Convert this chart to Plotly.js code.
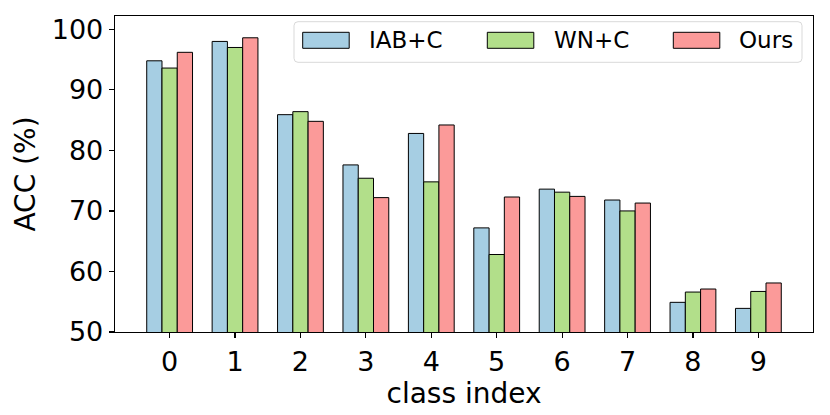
<!DOCTYPE html>
<html>
<head>
<meta charset="utf-8">
<script src="https://cdn.plot.ly/plotly-3.0.1.min.js"></script>
<style>html,body{margin:0;padding:0;background:#fff;}#chart{width:830px;height:415px;}</style>
</head>
<body>
<div id="chart"></div>
<script>
// ---- data ----
const classes = ["0","1","2","3","4","5","6","7","8","9"];
const seriesNames = ["IAB+C", "WN+C", "Ours"];
const iabC = [94.8, 98.0, 85.9, 77.6, 82.8, 67.2, 73.6, 71.8, 54.9, 53.9];
const wnC  = [93.6, 97.0, 86.4, 75.4, 74.8, 62.8, 73.1, 70.0, 56.6, 56.7];
const ours = [96.2, 98.6, 84.8, 72.2, 84.2, 72.3, 72.4, 71.3, 57.1, 58.1];
const colors = ["#a6cee3", "#b2df8a", "#fb9a99"];
const yTicks = [50, 60, 70, 80, 90, 100];

// ---- layout geometry ----
const M = {l: 115, r: 17, t: 16, b: 83};
const W = 830 - M.l - M.r, H = 415 - M.t - M.b;
const px = x => (x - M.l) / W;
const py = y => (415 - M.b - y) / H;
const FONT = "DejaVu Sans, Verdana, sans-serif";

const allSeries = [iabC, wnC, ours];
const traces = allSeries.map((vals, i) => ({
  type: "bar",
  x: classes.map((c, k) => k),
  y: vals,
  name: seriesNames[i],
  marker: {color: colors[i], line: {color: "#000", width: 1}},
  showlegend: false,
  hoverinfo: "x+y+name"
}));

// custom matplotlib-like legend (wide patches)
const shapes = [];
const annotations = [];
(function(){
  const x0 = px(294), x1 = px(802), y0 = py(62.3), y1 = py(21.7);
  const rx = 4 / W, ry = 4 / H;
  const path = `M ${x0+rx},${y0} L ${x1-rx},${y0} Q ${x1},${y0} ${x1},${y0+ry} L ${x1},${y1-ry} Q ${x1},${y1} ${x1-rx},${y1} L ${x0+rx},${y1} Q ${x0},${y1} ${x0},${y1-ry} L ${x0},${y0+ry} Q ${x0},${y0} ${x0+rx},${y0} Z`;
  shapes.push({type: "path", xref: "paper", yref: "paper", path: path,
    line: {color: "#d9d9d9", width: 1}, fillcolor: "rgba(255,255,255,0.8)", layer: "above"});
})();
const patchX = [302.7, 487.3, 673.3];
const patchW = 46.5;
const textX = [367, 551.7, 737.3];
seriesNames.forEach((n, i) => {
  shapes.push({type: "rect", xref: "paper", yref: "paper",
    x0: px(patchX[i]), x1: px(patchX[i] + patchW), y0: py(48.3), y1: py(32.3),
    fillcolor: colors[i], line: {color: "#000", width: 1}, layer: "above"});
  annotations.push({xref: "paper", yref: "paper", x: px(textX[i]), y: py(40.5),
    xanchor: "left", yanchor: "middle", showarrow: false, text: n,
    font: {family: FONT, size: 23, color: "#000"}});
});

const layout = {
  width: 830, height: 415,
  margin: M,
  paper_bgcolor: "#fff", plot_bgcolor: "#fff",
  barmode: "group", bargap: 0.3, bargroupgap: 0,
  font: {family: FONT, color: "#000"},
  xaxis: {
    range: [-0.835, 9.835],
    tickmode: "array", tickvals: classes.map((c, k) => k), ticktext: classes,
    ticks: "outside", ticklen: 5, tickwidth: 1.2, tickcolor: "#000",
    showline: true, linecolor: "#000", linewidth: 1.3, mirror: true,
    showgrid: false, zeroline: false,
    tickfont: {family: FONT, size: 27, color: "#000"},
    title: {text: "class index", font: {family: FONT, size: 28, color: "#000"}, standoff: 4}
  },
  yaxis: {
    range: [50, 102.2],
    tickmode: "array", tickvals: yTicks, ticktext: yTicks.map(String),
    ticks: "outside", ticklen: 5, tickwidth: 1.2, tickcolor: "#000",
    showline: true, linecolor: "#000", linewidth: 1.3, mirror: true,
    showgrid: false, zeroline: false,
    tickfont: {family: FONT, size: 27, color: "#000"},
    title: {text: "ACC (%)", font: {family: FONT, size: 28, color: "#000"}, standoff: 8}
  },
  shapes: shapes,
  annotations: annotations
};

Plotly.newPlot("chart", traces, layout, {displayModeBar: false, staticPlot: true});
</script>
</body>
</html>
